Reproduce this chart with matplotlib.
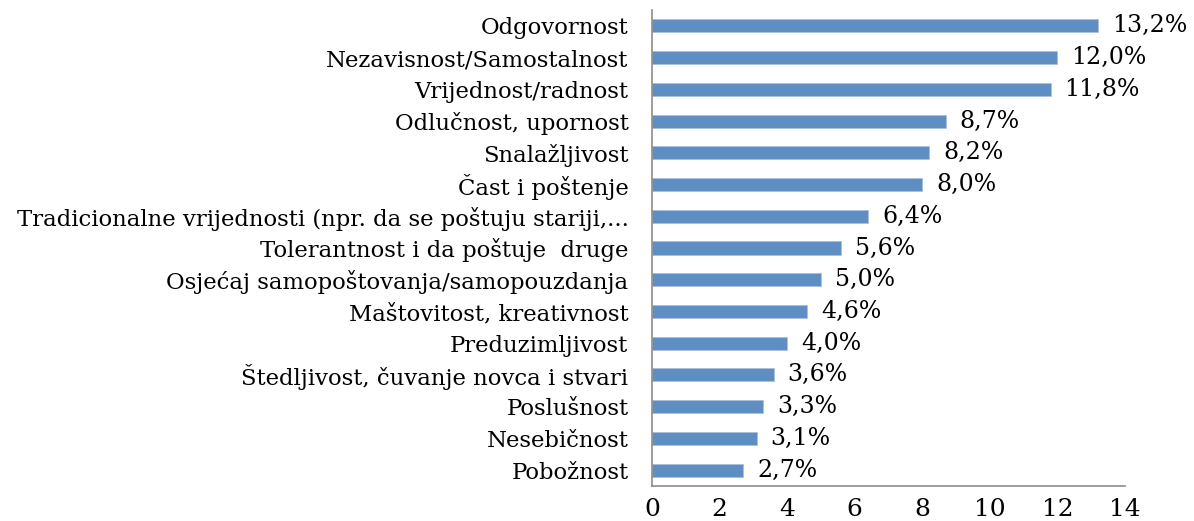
import matplotlib
matplotlib.use("Agg")
import matplotlib.pyplot as plt

categories = ["Odgovornost", "Nezavisnost/Samostalnost", "Vrijednost/radnost",
              "Odlučnost, upornost", "Snalažljivost", "Čast i poštenje",
              "Tradicionalne vrijednosti (npr. da se poštuju stariji,...",
              "Tolerantnost i da poštuje  druge",
              "Osjećaj samopoštovanja/samopouzdanja",
              "Maštovitost, kreativnost", "Preduzimljivost",
              "Štedljivost, čuvanje novca i stvari", "Poslušnost",
              "Nesebičnost", "Pobožnost"]
values = [13.2, 12.0, 11.8, 8.7, 8.2, 8.0, 6.4, 5.6, 5.0, 4.6, 4.0, 3.6, 3.3, 3.1, 2.7]
xticks = [0, 2, 4, 6, 8, 10, 12, 14]

plt.rcParams['font.family'] = ['DejaVu Serif']
fig = plt.figure(figsize=(11.94, 5.21), dpi=100)
ax = fig.add_axes([652/1194, 1-486/521, (1125-652)/1194, (486-10)/521])

y = list(range(len(categories)))
ax.barh(y, values, height=0.41, color='#5f8fc2', edgecolor='#a9c1df', linewidth=0.6)
ax.set_ylim(len(categories)-0.5, -0.5)
ax.set_xlim(0, 14)
ax.set_xticks(xticks)
ax.set_xticklabels([str(t) for t in xticks], fontsize=18)
ax.set_yticks(y)
ax.set_yticklabels(categories, fontsize=16.4)
ax.tick_params(axis='both', length=0)
ax.tick_params(axis='y', pad=17)
ax.tick_params(axis='x', pad=9)
for s in ['top', 'right']:
    ax.spines[s].set_visible(False)
for s in ['left', 'bottom']:
    ax.spines[s].set_color('#8c8c8c')
    ax.spines[s].set_linewidth(1.2)

for yi, v in zip(y, values):
    ax.annotate(f"{v:.1f}%".replace('.', ','), (v, yi), xytext=(10, 0),
                textcoords='offset points', va='center', ha='left', fontsize=17)

fig.savefig('out.png', dpi=100)
